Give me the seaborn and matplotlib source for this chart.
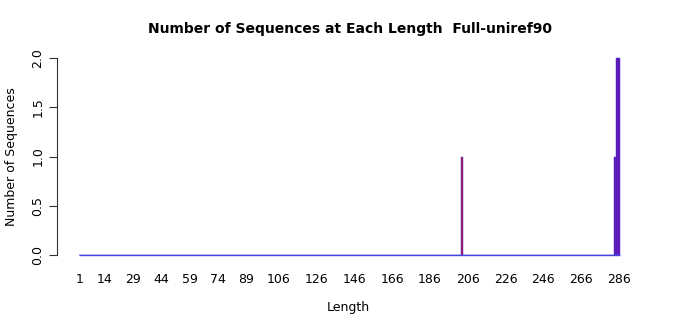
import matplotlib
matplotlib.use("Agg")
import matplotlib.pyplot as plt
import seaborn as sns
import pandas as pd
import numpy as np

# Data
length_min = 1
length_max = 286
nonzero_lengths = [203, 284, 285, 286]
nonzero_counts = [1, 1, 2, 2]
tick_labels = [1, 14, 29, 44, 59, 74, 89, 106, 126, 146, 166, 186, 206, 226, 246, 266, 286]
y_ticks = [0.0, 0.5, 1.0, 1.5, 2.0]

# Styles
bar_colors = ["#B0104E", "#6A0AAA", "#6A0AAA", "#6A0AAA"]
zero_color = "#6A0AAA"
edge_color = "#4444E0"

lengths = list(range(length_min, length_max + 1))
count_map = dict(zip(nonzero_lengths, nonzero_counts))
df = pd.DataFrame({"Length": lengths, "Count": [count_map.get(l, 0) for l in lengths]})
color_map = dict(zip(nonzero_lengths, bar_colors))
palette = {l: color_map.get(l, zero_color) for l in lengths}

sns.set_style("white")
plt.rcParams["font.family"] = ["DejaVu Sans"]
for k in ["text.color", "axes.labelcolor", "xtick.color", "ytick.color"]:
    plt.rcParams[k] = "black"

W, H = 700, 315
fig = plt.figure(figsize=(7, 3.15), dpi=100)
ax_left, ax_right = 57, 640
ax_top, ax_bottom = 58, 255
ax = fig.add_axes([ax_left / W, 1 - ax_bottom / H, (ax_right - ax_left) / W, (ax_bottom - ax_top) / H])

sns.barplot(data=df, x="Length", y="Count", hue="Length", palette=palette, legend=False,
            native_scale=True, width=1.0, dodge=False,
            edgecolor=edge_color, linewidth=0.35, saturation=1,
            errorbar=None, ax=ax)
for p in ax.patches:
    p.set_clip_on(False)
ax.hlines(0, lengths[0] - 0.5, lengths[-1] + 0.5, color=edge_color, linewidth=1.0, clip_on=False, zorder=3)

px_per = 1.891
x0 = 1 - (80 - ax_left) / px_per
x1 = 1 + (ax_right - 80) / px_per
ax.set_xlim(x0, x1)
ax.set_ylim(0, 2)

ax.set_xticks(tick_labels)
ax.set_xticklabels([str(t) for t in tick_labels], fontsize=9)
ax.tick_params(axis="x", length=0, pad=13, colors="black")
ax.set_yticks(y_ticks)
ax.set_yticklabels([f"{v:.1f}" for v in y_ticks], fontsize=9, rotation=90, va="center")
ax.tick_params(axis="y", length=6, width=0.8, color="#333333", labelcolor="black", pad=3, left=True)

for s in ["top", "right", "bottom"]:
    ax.spines[s].set_visible(False)
ax.spines["left"].set_color("#333333")
ax.spines["left"].set_linewidth(0.8)

ax.set_xlabel("Length", fontsize=9, labelpad=11)
ax.set_ylabel("Number of Sequences", fontsize=9, labelpad=10)
fig.text(350 / W, 1 - 29 / H, "Number of Sequences at Each Length  Full-uniref90",
         ha="center", va="center", fontsize=10, fontweight="bold")

fig.savefig("out.png", dpi=100, facecolor="white")
